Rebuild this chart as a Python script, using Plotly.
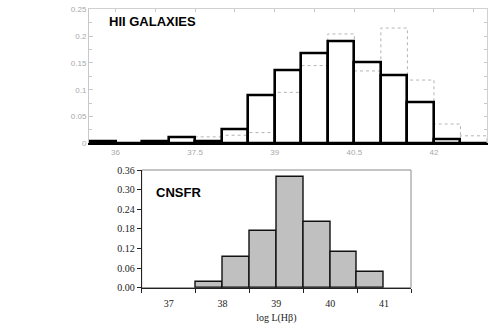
import plotly.graph_objects as go

# ---------------- data ----------------
# HII galaxies: bin lower edges (bin width 0.5)
hii_bin_lo = [35.5, 36.0, 36.5, 37.0, 37.5, 38.0, 38.5, 39.0, 39.5, 40.0, 40.5, 41.0, 41.5, 42.0, 42.5]
hii_black = [0.003, 0.0, 0.003, 0.012, 0.003, 0.026, 0.090, 0.136, 0.168, 0.191, 0.151, 0.127, 0.076, 0.007, 0.0]
hii_gray = [0.0, 0.0, 0.0, 0.011, 0.012, 0.015, 0.020, 0.095, 0.145, 0.204, 0.135, 0.215, 0.118, 0.036, 0.014]
bin_width = 0.5

top_xticks = [36, 37.5, 39, 40.5, 42]
top_xlabels = ["36", "37.5", "39", "40.5", "42"]
top_yticks = [0, 0.05, 0.1, 0.15, 0.2, 0.25]
top_ylabels = ["0", "0.05", "0.1", "0.15", "0.2", "0.25"]

# CNSFR
cnsfr_bin_lo = [37.5, 38.0, 38.5, 39.0, 39.5, 40.0, 40.5]
cnsfr_vals = [0.017, 0.094, 0.173, 0.340, 0.202, 0.108, 0.047]
bot_xticks = [37, 38, 39, 40, 41]
bot_yticks = [0.00, 0.06, 0.12, 0.18, 0.24, 0.30, 0.36]

W, H = 496, 333

fig = go.Figure()

# gray dotted histogram outline (built from data)
gx, gy = [], []
for lo, v in zip(hii_bin_lo, hii_gray):
    if v <= 0:
        continue
    hi = lo + bin_width
    gx += [lo, lo, hi, hi, None]
    gy += [0, v, v, 0, None]
fig.add_trace(go.Scatter(x=gx, y=gy, mode="lines", xaxis="x", yaxis="y",
                         line=dict(color="#b4b4b4", width=1, dash="dot"),
                         hoverinfo="skip", showlegend=False))

# black outlined bars (on overlay axes so they are drawn above)
centers = [lo + bin_width / 2 for lo in hii_bin_lo]
fig.add_trace(go.Bar(x=centers, y=hii_black, width=bin_width, xaxis="x3", yaxis="y3",
                     marker=dict(color="rgba(0,0,0,0)", line=dict(color="black", width=2.6)),
                     showlegend=False))

# CNSFR bars
c_centers = [lo + bin_width / 2 for lo in cnsfr_bin_lo]
fig.add_trace(go.Bar(x=c_centers, y=cnsfr_vals, width=bin_width, xaxis="x2", yaxis="y2",
                     marker=dict(color="#c0c0c0", line=dict(color="#111111", width=1.4)),
                     showlegend=False))

top_xdom = [89 / W, 487 / W]
top_ydom = [(H - 143.3) / H, (H - 9.3) / H]
bot_xdom = [141.7 / W, 411 / W]
bot_ydom = [(H - 287.7) / H, (H - 170) / H]

gray_font = dict(family="Liberation Sans, Arial, sans-serif", size=8, color="#a8a8a8")
serif_font = dict(family="Liberation Serif, Times New Roman, serif", size=10, color="#222222")

fig.update_layout(
    width=W, height=H,
    margin=dict(l=0, r=0, t=0, b=0, autoexpand=False),
    paper_bgcolor="white", plot_bgcolor="rgba(0,0,0,0)",
    bargap=0,
    # ---- top panel ----
    xaxis=dict(domain=top_xdom, range=[35.5, 43], anchor="y", automargin=False,
               showgrid=False, zeroline=False,
               showline=True, linecolor="black", linewidth=2.4,
               tickvals=top_xticks, ticktext=top_xlabels, ticks="",
               tickfont=gray_font),
    yaxis=dict(domain=top_ydom, range=[0, 0.25], anchor="x", automargin=False,
               showgrid=False, zeroline=False,
               showline=True, linecolor="#c8c8c8", linewidth=1,
               tickvals=top_yticks, ticktext=top_ylabels,
               ticks="inside", ticklen=4, tickcolor="#c8c8c8",
               minor=dict(dtick=0.025, tick0=0, ticks="inside", ticklen=3, tickcolor="#c8c8c8"),
               tickfont=gray_font),
    xaxis3=dict(overlaying="x", side="top", range=[35.5, 43], anchor="y3", automargin=False,
                showgrid=False, zeroline=False,
                showline=True, linecolor="#d0d0d0", linewidth=1,
                tick0=36, dtick=0.75, ticks="inside", ticklen=3, tickcolor="#c8c8c8",
                showticklabels=False),
    yaxis3=dict(overlaying="y", side="right", range=[0, 0.25], anchor="x3", automargin=False,
                showgrid=False, zeroline=False,
                showline=True, linecolor="#d0d0d0", linewidth=1,
                tick0=0, dtick=0.025, ticks="inside", ticklen=3, tickcolor="#c8c8c8",
                showticklabels=False),
    # ---- bottom panel ----
    xaxis2=dict(domain=bot_xdom, range=[36.5, 41.5], anchor="y2", automargin=False,
                showgrid=False, zeroline=False,
                showline=True, linecolor="#222222", linewidth=1,
                tickvals=bot_xticks, ticks="outside", ticklen=0,
                ticklabelstandoff=6,
                minor=dict(tick0=36.5, dtick=1, ticks="outside", ticklen=4, tickcolor="#222222"),
                tickfont=serif_font,
                title=dict(text="log L(H\u03b2)", font=serif_font, standoff=6)),
    yaxis2=dict(domain=bot_ydom, range=[0, 0.36], anchor="x2", automargin=False,
                showgrid=False, zeroline=False,
                showline=True, linecolor="#222222", linewidth=1,
                tickvals=bot_yticks, tickformat=".2f",
                ticks="outside", ticklen=4, tickcolor="#222222",
                tickfont=serif_font),
)

# bottom panel gray frame
fig.add_shape(type="rect", xref="x2 domain", yref="y2 domain", x0=0, x1=1, y0=0, y1=1,
              line=dict(color="#8a8a8a", width=1), layer="below")

fig.add_annotation(text="<b>HII GALAXIES</b>", xref="paper", yref="paper",
                   x=107 / W, y=(H - 22) / H, xanchor="left", yanchor="middle",
                   showarrow=False,
                   font=dict(family="Liberation Sans, Arial, sans-serif", size=13, color="black"))
fig.add_annotation(text="<b>CNSFR</b>", xref="paper", yref="paper",
                   x=154 / W, y=(H - 192) / H, xanchor="left", yanchor="middle",
                   showarrow=False,
                   font=dict(family="Liberation Sans, Arial, sans-serif", size=13, color="black"))

fig.write_html("out.html",
               config={"displayModeBar": False},
               post_script="document.body.style.margin='0';document.body.style.padding='0';")
